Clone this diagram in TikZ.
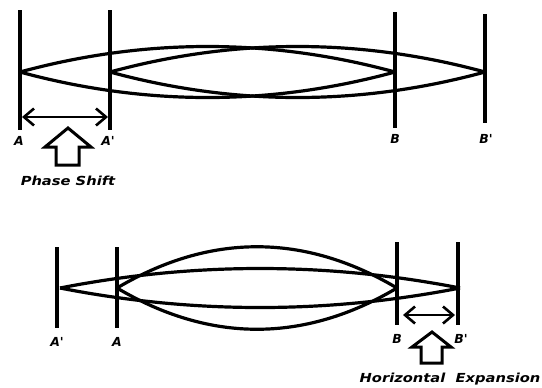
\documentclass[tikz,border=0pt]{standalone}
\usepackage{fontspec}
\setmainfont{DejaVu Sans}
\usetikzlibrary{arrows.meta}
\begin{document}
\begin{tikzpicture}[x=1bp,y=-1bp,
  bar/.style={line width=4.2bp},
  wave/.style={line width=3.2bp},
  dim/.style={line width=2.6bp,{Straight Barb[length=10bp,width=17bp,line width=2.6bp]}-{Straight Barb[length=10bp,width=17bp,line width=2.6bp]}},
  blockarrow/.style={line width=3bp,line join=miter},
  lbl/.style={inner sep=0pt,font=\fontsize{12.5}{13}\selectfont\bfseries\itshape},
  captext/.style={inner sep=0pt,xscale=1.18,font=\fontsize{12.5}{13}\selectfont\bfseries\itshape}]
\useasboundingbox (0,0) rectangle (542,387);
% ---------- top diagram ----------
\coordinate (At) at (20,10);  \coordinate (Ab) at (20,130);
\coordinate (Pt) at (110,10); \coordinate (Pb) at (110,130);
\coordinate (Bt) at (395,12); \coordinate (Bb) at (395,128);
\coordinate (Qt) at (485,14); \coordinate (Qb) at (485,123);
\draw[bar] (At) -- (Ab);
\draw[bar] (Pt) -- (Pb);
\draw[bar] (Bt) -- (Bb);
\draw[bar] (Qt) -- (Qb);
\coordinate (L1a) at (20,72);  \coordinate (L1b) at (395,72);
\coordinate (L2a) at (110,72); \coordinate (L2b) at (485,72);
\draw[wave] (L1a) .. controls (145,38) and (270,38) .. (L1b);
\draw[wave] (L1a) .. controls (145,106) and (270,106) .. (L1b);
\draw[wave] (L2a) .. controls (235,38) and (360,38) .. (L2b);
\draw[wave] (L2a) .. controls (235,106) and (360,106) .. (L2b);
\coordinate (d1a) at (22,117); \coordinate (d1b) at (108,117);
\draw[dim] (d1a) -- (d1b);
\draw[blockarrow] (68,128) -- (91,147) -- (79,147) -- (79,165) -- (56,165) -- (56,147) -- (45,147) -- cycle;
\node[lbl] (lA) at (19,141) {A};
\node[lbl] (lAp) at (108,141) {A\textquotesingle};
\node[lbl] (lB) at (395,139) {B};
\node[lbl] (lBp) at (486,139) {B\textquotesingle};
\node[captext] (ps) at (68,181) {Phase Shift};
% ---------- bottom diagram ----------
\coordinate (at) at (57,247);  \coordinate (ab) at (57,328);
\coordinate (pt) at (117,247); \coordinate (pb) at (117,328);
\coordinate (bt) at (397,242); \coordinate (bb) at (397,325);
\coordinate (qt) at (458,242); \coordinate (qb) at (458,325);
\draw[bar] (at) -- (ab);
\draw[bar] (pt) -- (pb);
\draw[bar] (bt) -- (bb);
\draw[bar] (qt) -- (qb);
\coordinate (M1a) at (117,288); \coordinate (M1b) at (397,288);
\coordinate (M2a) at (60,288);  \coordinate (M2b) at (460,288);
\draw[wave] (M1a) .. controls (210,233) and (304,233) .. (M1b);
\draw[wave] (M1a) .. controls (210,343) and (304,343) .. (M1b);
\draw[wave] (M2a) .. controls (193,262) and (327,262) .. (M2b);
\draw[wave] (M2a) .. controls (193,314) and (327,314) .. (M2b);
\coordinate (d2a) at (403,315); \coordinate (d2b) at (455,315);
\draw[dim] (d2a) -- (d2b);
\draw[blockarrow] (432,332) -- (451,347) -- (442,347) -- (442,363) -- (421,363) -- (421,347) -- (412,347) -- cycle;
\node[lbl] (la) at (57,342) {A\textquotesingle};
\node[lbl] (lp) at (117,342) {A};
\node[lbl] (lb) at (397,339) {B};
\node[lbl] (lq) at (461,339) {B\textquotesingle};
\node[captext] (he) at (450,379) {Horizontal~ Expansion};
\end{tikzpicture}
\end{document}
